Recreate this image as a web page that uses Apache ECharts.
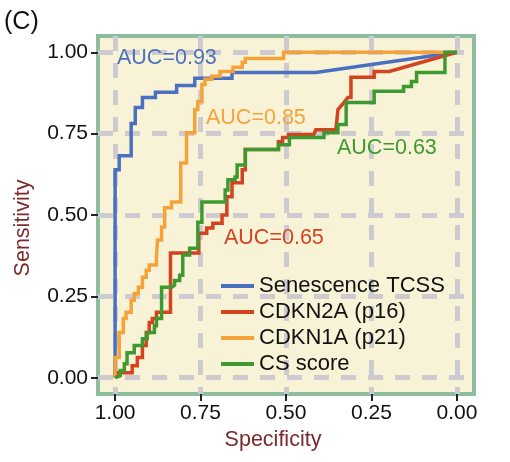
<!DOCTYPE html>
<html>
<head>
<meta charset="utf-8">
<script src="https://cdn.jsdelivr.net/npm/echarts@6/dist/echarts.min.js"></script>
<style>
  html,body{margin:0;padding:0;background:#fff;}
  #main{width:510px;height:462px;}
</style>
</head>
<body>
<div id="main"></div>
<script>
// ROC points as [specificity, sensitivity]
var tcssRoc = [[1,0],[1,0.639],[0.988,0.639],[0.988,0.682],[0.953,0.682],[0.953,0.781],[0.941,0.781],[0.941,0.830],
  [0.920,0.830],[0.920,0.861],[0.882,0.861],[0.882,0.877],[0.820,0.877],[0.820,0.898],[0.767,0.898],[0.767,0.920],
  [0.658,0.920],[0.658,0.938],[0.413,0.938],[0,1]];
var p16Roc = [[1,0],[0.994,0.015],[0.950,0.015],[0.950,0.037],[0.935,0.037],[0.935,0.062],[0.920,0.062],[0.920,0.099],
  [0.909,0.099],[0.909,0.139],[0.900,0.139],[0.900,0.170],[0.891,0.170],[0.891,0.182],[0.879,0.182],[0.879,0.201],
  [0.838,0.201],[0.838,0.383],[0.755,0.383],[0.755,0.444],[0.732,0.444],[0.732,0.460],[0.714,0.460],[0.714,0.475],
  [0.687,0.475],[0.687,0.500],[0.673,0.500],[0.673,0.556],[0.658,0.556],[0.658,0.599],[0.628,0.599],[0.628,0.639],
  [0.619,0.639],[0.619,0.701],[0.522,0.701],[0.522,0.725],[0.510,0.725],[0.510,0.738],[0.493,0.738],[0.493,0.747],
  [0.419,0.747],[0.413,0.762],[0.354,0.762],[0.348,0.824],[0.330,0.846],[0.319,0.861],[0.310,0.861],[0.310,0.923],
  [0.242,0.923],[0.242,0.941],[0.198,0.941],[0,1]];
var p21Roc = [[1,0],[1,0.062],[0.988,0.062],[0.988,0.139],[0.976,0.139],[0.976,0.182],[0.968,0.182],[0.968,0.201],
  [0.953,0.201],[0.953,0.238],[0.944,0.238],[0.944,0.259],[0.932,0.259],[0.932,0.278],[0.920,0.278],[0.920,0.309],
  [0.909,0.309],[0.909,0.330],[0.900,0.330],[0.900,0.346],[0.879,0.346],[0.879,0.370],[0.876,0.370],[0.876,0.423],
  [0.864,0.423],[0.864,0.463],[0.855,0.463],[0.855,0.522],[0.835,0.522],[0.835,0.540],[0.808,0.540],[0.808,0.660],
  [0.791,0.660],[0.791,0.753],[0.767,0.753],[0.767,0.824],[0.758,0.824],[0.758,0.849],[0.746,0.849],[0.746,0.901],
  [0.737,0.901],[0.737,0.917],[0.717,0.917],[0.717,0.926],[0.693,0.926],[0.693,0.941],[0.655,0.941],[0.655,0.954],
  [0.628,0.954],[0.628,0.969],[0.619,0.969],[0.619,0.981],[0.507,0.981],[0.507,1],[0,1]];
var csRoc = [[1,0],[1,0.006],[0.985,0.006],[0.985,0.022],[0.973,0.022],[0.973,0.043],[0.965,0.043],[0.965,0.077],
  [0.944,0.077],[0.944,0.099],[0.920,0.099],[0.920,0.120],[0.906,0.120],[0.906,0.139],[0.885,0.139],[0.885,0.160],
  [0.879,0.160],[0.879,0.182],[0.864,0.182],[0.864,0.278],[0.835,0.278],[0.835,0.284],[0.826,0.284],[0.826,0.299],
  [0.811,0.299],[0.811,0.315],[0.802,0.315],[0.802,0.377],[0.782,0.377],[0.782,0.398],[0.758,0.398],[0.758,0.478],
  [0.746,0.478],[0.746,0.540],[0.678,0.540],[0.678,0.577],[0.670,0.577],[0.670,0.608],[0.649,0.608],[0.649,0.617],
  [0.643,0.617],[0.643,0.654],[0.619,0.654],[0.619,0.701],[0.522,0.701],[0.522,0.716],[0.490,0.716],[0.490,0.738],
  [0.389,0.738],[0.389,0.753],[0.348,0.753],[0.348,0.778],[0.324,0.778],[0.324,0.846],[0.242,0.846],[0.242,0.880],
  [0.156,0.880],[0.156,0.895],[0.133,0.895],[0.133,0.910],[0.118,0.910],[0.118,0.938],[0.035,0.938],[0.035,1],[0,1]];

var seriesNames = ['Senescence TCSS','CDKN2A (p16)','CDKN1A (p21)','CS score'];
var seriesColors = ['#4a70c0','#d3431f','#f6a23a','#3e9a30'];
var aucTexts = ['AUC=0.93','AUC=0.65','AUC=0.85','AUC=0.63'];
var tickValues = [0, 0.25, 0.5, 0.75, 1];

var font = '"Liberation Sans", Arial, Helvetica, sans-serif';
var myChart = echarts.init(document.getElementById('main'));

var rocs = [tcssRoc, p16Roc, p21Roc, csRoc];
var series = rocs.map(function(d, i){
  return {
    name: seriesNames[i],
    type: 'line',
    data: d,
    showSymbol: false,
    symbol: 'none',
    lineStyle: {width: 3.5, color: seriesColors[i], join: 'miter'},
    itemStyle: {color: seriesColors[i]},
    z: 3 + i,
    animation: false
  }
})

var gridLine = {show: true, lineStyle: {color: '#cdcbcf', width: 5, type: [15, 12]}};
var axisBase = {
  type: 'value',
  min: -0.05,
  max: 1.05,
  axisLine: {show: false, onZero: false},
  axisTick: {show: true, length: 7, customValues: tickValues, lineStyle: {color: '#222', width: 2}},
  axisLabel: {customValues: tickValues, formatter: function(v){return v.toFixed(2)},
    fontSize: 21, color: '#111', fontFamily: font},
  splitLine: gridLine,
  nameLocation: 'middle',
  nameTextStyle: {fontSize: 21.5, color: '#7a2a2a', fontFamily: font, padding: [0, 26, 0, 0]}
};

var option = {
  backgroundColor: '#fff',
  animation: false,
  grid: {left: 98, right: 36, top: 36, bottom: 68, show: true,
    backgroundColor: '#f8f3d7', borderColor: '#8dbd9e', borderWidth: 4},
  xAxis: Object.assign({}, axisBase, {inverse: true, name: 'Specificity', nameGap: 35,
    axisLabel: Object.assign({}, axisBase.axisLabel, {margin: 9})}),
  yAxis: Object.assign({}, axisBase, {name: 'Sensitivity', nameGap: 64,
    axisLabel: Object.assign({}, axisBase.axisLabel, {margin: 10})}),
  legend: {
    data: seriesNames,
    orient: 'vertical',
    left: 216,
    top: 270,
    icon: 'rect',
    itemWidth: 33,
    itemHeight: 4,
    itemGap: 4,
    textStyle: {fontSize: 22, color: '#111', fontFamily: font, lineHeight: 22}
  },
  graphic: [
    {type: 'text', left: 4, top: 10, style: {text: '(C)', fontSize: 25, fill: '#111', fontFamily: font}},
    {type: 'text', left: 117, top: 47, z: 10, style: {text: aucTexts[0], fontSize: 21.5, fill: seriesColors[0], fontFamily: font}},
    {type: 'text', left: 206, top: 107, z: 10, style: {text: aucTexts[2], fontSize: 21.5, fill: seriesColors[2], fontFamily: font}},
    {type: 'text', left: 224, top: 227, z: 10, style: {text: aucTexts[1], fontSize: 21.5, fill: seriesColors[1], fontFamily: font}},
    {type: 'text', left: 337, top: 137, z: 10, style: {text: aucTexts[3], fontSize: 21.5, fill: seriesColors[3], fontFamily: font}}
  ],
  series: series
};
myChart.setOption(option);
</script>
</body>
</html>
